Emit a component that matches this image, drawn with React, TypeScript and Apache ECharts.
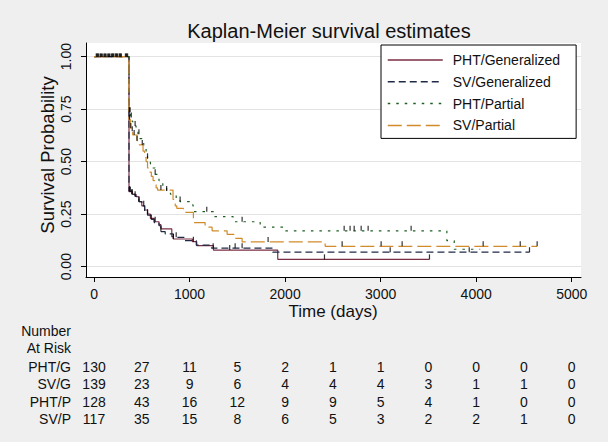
import React, { useEffect, useRef } from 'react';
import * as echarts from 'echarts';

const FONT = 'Liberation Sans, Arial, Helvetica, sans-serif';

const titleText = 'Kaplan-Meier survival estimates';
const xAxisTitle = 'Time (days)';
const yAxisTitle = 'Survival Probability';

const groupNames = ['PHT/Generalized', 'SV/Generalized', 'PHT/Partial', 'SV/Partial'];
const tableLabels = ['PHT/G', 'SV/G', 'PHT/P', 'SV/P'];
const groupColors = ['#7a2e44', '#1e2a46', '#1d5e22', '#d08c2a'];
const groupDashes: (number[] | 'solid')[] = ['solid', [7, 4], [2.5, 6], [14, 5]];

const xTicks = [0, 1000, 2000, 3000, 4000, 5000];
const yTicks = [0, 0.25, 0.5, 0.75, 1];

// Number at risk
const riskTimes = [0, 500, 1000, 1500, 2000, 2500, 3000, 3500, 4000, 4500, 5000];
const riskPHTG = [130, 27, 11, 5, 2, 1, 1, 0, 0, 0, 0];
const riskSVG = [139, 23, 9, 6, 4, 4, 4, 3, 1, 1, 0];
const riskPHTP = [128, 43, 16, 12, 9, 9, 5, 4, 1, 0, 0];
const riskSVP = [117, 35, 15, 8, 6, 5, 3, 2, 2, 1, 0];

// Kaplan-Meier step curves: [day, survival from that day on]
const kmPHTG = [
  [0, 1], [366, 0.357], [400, 0.345], [440, 0.333], [470, 0.31], [500, 0.29], [530, 0.27],
  [560, 0.25], [590, 0.23], [630, 0.214], [680, 0.2], [700, 0.18], [814, 0.143], [830, 0.132],
  [1030, 0.119], [1075, 0.1], [1250, 0.079], [1923, 0.035], [3511, 0.035],
];
const kmSVG = [
  [0, 1], [366, 0.36], [390, 0.345], [430, 0.335], [470, 0.31], [500, 0.29], [530, 0.265],
  [560, 0.245], [590, 0.225], [630, 0.21], [680, 0.195], [700, 0.167], [745, 0.156], [830, 0.14],
  [950, 0.124], [1070, 0.103], [1230, 0.088], [1870, 0.069], [4558, 0.069],
];
const kmPHTP = [
  [0, 1], [366, 0.735], [380, 0.71], [400, 0.69], [420, 0.67], [440, 0.65], [460, 0.63],
  [480, 0.61], [500, 0.59], [520, 0.57], [545, 0.545], [560, 0.516], [590, 0.49], [610, 0.47],
  [640, 0.44], [680, 0.41], [720, 0.384], [760, 0.36], [800, 0.345], [860, 0.326], [900, 0.31],
  [1000, 0.294], [1037, 0.262], [1250, 0.238], [1456, 0.214], [1739, 0.188], [1980, 0.171],
  [3693, 0.124], [3770, 0.083], [4042, 0.083],
];
const kmSVP = [
  [0, 1], [366, 0.7], [380, 0.66], [395, 0.645], [405, 0.627], [450, 0.6], [475, 0.58],
  [513, 0.55], [530, 0.52], [545, 0.5], [560, 0.47], [580, 0.45], [600, 0.43], [618, 0.41],
  [635, 0.39], [650, 0.375], [665, 0.365], [827, 0.32], [850, 0.29], [866, 0.278], [935, 0.259],
  [1040, 0.21], [1163, 0.188], [1236, 0.171], [1393, 0.154], [1477, 0.135], [1550, 0.118],
  [2419, 0.097], [4638, 0.097],
];

// Censoring times (days)
const censorBaseline = [25, 35, 45, 65, 75, 85, 105, 115, 125, 145, 155, 165, 185, 195, 205, 225, 235, 245, 265, 275, 285, 330, 340, 350];
const censorPHTG = [380, 400, 470, 560, 640, 830, 1040, 1420, 2412, 3511];
const censorSVG = [372, 395, 430, 520, 600, 700, 860, 1247, 1477, 1550, 3100, 3927, 4558];
const censorPHTP = [370, 378, 390, 430, 470, 560, 640, 760, 901, 1180, 1550, 2618, 2680, 2723, 2796, 2869, 3319];
const censorSVP = [372, 385, 400, 420, 450, 505, 700, 1822, 2597, 3005, 3225, 4073, 4461, 4638];

const curves = [kmPHTG, kmSVG, kmPHTP, kmSVP];
const censors = [censorPHTG, censorSVG, censorPHTP, censorSVP];
const risks = [riskPHTG, riskSVG, riskPHTP, riskSVP];

function survAt(curve: number[][], day: number): number {
  let s = curve[0][1];
  for (const [d, v] of curve) {
    if (d <= day) s = v;
    else break;
  }
  return s;
}

export default function App() {
  const ref = useRef<HTMLDivElement>(null);

  useEffect(() => {
    if (!ref.current) return;
    const chart = echarts.init(ref.current, null, { renderer: 'svg' });

    const lineSeries = curves.map((c, i) => ({
      name: groupNames[i],
      type: 'line',
      step: 'end',
      data: c,
      symbol: 'none',
      lineStyle: { color: groupColors[i], width: 1.2, type: groupDashes[i] },
      itemStyle: { color: groupColors[i] },
      z: 2 + i,
    }));

    const censorSeries = censors.map((cs, i) => ({
      name: 'censor' + i,
      type: 'scatter',
      data: cs.map((d) => [d, survAt(curves[i], d)]),
      symbol: 'rect',
      symbolSize: [1.2, 5],
      symbolOffset: [0, -2.5],
      itemStyle: { color: '#000' },
      z: 10,
    }));

    const baselineSeries = {
      name: 'censorBase',
      type: 'scatter',
      data: censorBaseline.map((d) => [d, 1]),
      symbol: 'rect',
      symbolSize: [1.5, 3.5],
      symbolOffset: [0, -1.5],
      itemStyle: { color: '#000' },
      z: 10,
    };

    const option: any = {
      animation: false,
      backgroundColor: '#efefef',
      textStyle: { fontFamily: FONT },
      grid: {
        left: 86, top: 43, width: 495, height: 234,
        show: true, backgroundColor: '#ffffff', borderWidth: 0,
        containLabel: false, outerBoundsMode: 'none',
      },
      legend: {
        data: groupNames,
        orient: 'vertical',
        left: 381,
        top: 45,
        padding: [8, 16, 6, 6],
        itemWidth: 55,
        itemHeight: 14,
        itemGap: 7.8,
        backgroundColor: '#ffffff',
        borderColor: '#000',
        borderWidth: 1,
        borderRadius: 0,
        selectedMode: false,
        itemStyle: { opacity: 0, borderWidth: 0 },
        lineStyle: { width: 1.5 },
        textStyle: { fontSize: 14, color: '#111', fontFamily: FONT, padding: [0, 0, 0, 5] },
      },
      xAxis: {
        type: 'value',
        min: -84,
        max: 5097,
        axisLine: { show: true, onZero: false, lineStyle: { color: '#000', width: 1 } },
        axisTick: { show: true, length: 5, customValues: xTicks, lineStyle: { color: '#000', width: 1 } },
        axisLabel: {
          customValues: xTicks, fontSize: 14, color: '#111', margin: 10, fontFamily: FONT,
          formatter: (v: number) => String(v),
        },
        splitLine: { show: false },
      },
      yAxis: {
        type: 'value',
        min: -0.049,
        max: 1.065,
        axisLine: { show: true, onZero: false, lineStyle: { color: '#000', width: 1 } },
        axisTick: { show: true, length: 5, customValues: yTicks, lineStyle: { color: '#000', width: 1 } },
        axisLabel: {
          customValues: yTicks, rotate: 90, fontSize: 14, color: '#111', margin: 13, fontFamily: FONT,
          formatter: (v: number) => v.toFixed(2),
        },
        splitLine: { show: true, lineStyle: { color: '#e3e3e3', width: 1 } },
      },
      series: [...lineSeries, baselineSeries, ...censorSeries],
    };

    chart.setOption(option);

    const elements: any[] = [];
    elements.push({
      type: 'text', x: 329, y: 31,
      style: { text: titleText, fontSize: 20, fontFamily: FONT, fill: '#111', textAlign: 'center', textVerticalAlign: 'middle' },
    });
    elements.push({
      type: 'text', x: 333, y: 311,
      style: { text: xAxisTitle, fontSize: 17, fontFamily: FONT, fill: '#111', textAlign: 'center', textVerticalAlign: 'middle' },
    });
    elements.push({
      type: 'text', x: 47, y: 155, rotation: Math.PI / 2,
      style: { text: yAxisTitle, fontSize: 18.5, fontFamily: FONT, fill: '#111', textAlign: 'center', textVerticalAlign: 'middle' },
    });

    const labelRight = 71;
    elements.push({
      type: 'text', x: labelRight, y: 331,
      style: { text: 'Number', fontSize: 14, fontFamily: FONT, fill: '#111', textAlign: 'right', textVerticalAlign: 'middle' },
    });
    elements.push({
      type: 'text', x: labelRight, y: 348,
      style: { text: 'At Risk', fontSize: 14, fontFamily: FONT, fill: '#111', textAlign: 'right', textVerticalAlign: 'middle' },
    });
    const rowY = [366.5, 384, 401.5, 419];
    risks.forEach((row, r) => {
      elements.push({
        type: 'text', x: labelRight, y: rowY[r],
        style: { text: tableLabels[r], fontSize: 14, fontFamily: FONT, fill: '#111', textAlign: 'right', textVerticalAlign: 'middle' },
      });
      row.forEach((n, k) => {
        const px = chart.convertToPixel({ xAxisIndex: 0 }, riskTimes[k]) as number;
        elements.push({
          type: 'text', x: px, y: rowY[r],
          style: { text: String(n), fontSize: 14, fontFamily: FONT, fill: '#111', textAlign: 'center', textVerticalAlign: 'middle' },
        });
      });
    });

    chart.setOption({ graphic: { elements } });

    return () => {
      chart.dispose();
    };
  }, []);

  return (
    <div
      ref={ref}
      style={{ position: 'absolute', left: 0, top: 0, width: 608, height: 442 }}
    />
  );
}
